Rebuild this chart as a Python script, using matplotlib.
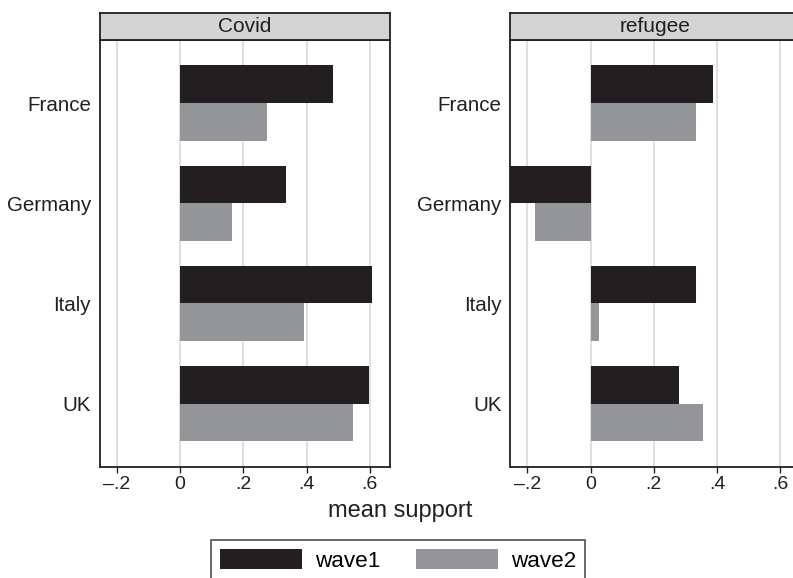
import numpy as np
import matplotlib
matplotlib.use("Agg")
import matplotlib.pyplot as plt
from matplotlib.patches import Patch
from matplotlib.ticker import FuncFormatter

plt.rcParams['font.family'] = ['Liberation Sans', 'DejaVu Sans']

countries = ['France', 'Germany', 'Italy', 'UK']
panels = ['Covid', 'refugee']
covid_wave1 = [0.485, 0.335, 0.607, 0.598]
covid_wave2 = [0.274, 0.165, 0.392, 0.547]
refugee_wave1 = [0.388, -0.30, 0.332, 0.279]
refugee_wave2 = [0.332, -0.174, 0.026, 0.355]
xticks = [-0.2, 0, 0.2, 0.4, 0.6]

data = {'Covid': (covid_wave1, covid_wave2),
        'refugee': (refugee_wave1, refugee_wave2)}

c1 = '#231f20'
c2 = '#939598'
fs = 14.8

W, H = 793, 578
fig = plt.figure(figsize=(W / 100, H / 100), dpi=100)


def fmt(v, pos):
    if abs(v) < 1e-9:
        return '0'
    s = ('%.1f' % v).replace('0.', '.')
    return s.replace('-', '\u2013')


lefts = [100, 510.5]
for name, left in zip(panels, lefts):
    ax = fig.add_axes([left / W, (H - 466.7) / H, 290 / W, 426.7 / H])
    w1, w2 = data[name]
    y = np.arange(len(countries))
    h = 0.377
    ax.barh(y - h / 2, w1, height=h, color=c1, zorder=3)
    ax.barh(y + h / 2, w2, height=h, color=c2, zorder=3)
    ax.set_xlim(-0.253, 0.664)
    ax.set_ylim(3.63, -0.63)
    ax.set_xticks(xticks)
    ax.xaxis.set_major_formatter(FuncFormatter(fmt))
    ax.set_yticks(y)
    ax.set_yticklabels(countries)
    ax.tick_params(axis='y', length=0, pad=6.5, labelsize=fs, colors='#231f20')
    ax.tick_params(axis='x', length=4.5, width=1, pad=2.5, labelsize=14,
                   colors='#231f20', direction='out')
    ax.grid(axis='x', color='#d9d9d9', lw=1.2, zorder=0)
    for sp in ax.spines.values():
        sp.set_color('#231f20')
        sp.set_linewidth(1.3)

    # panel header
    hx = fig.add_axes([left / W, (H - 39.5) / H, 290 / W, 27 / H])
    hx.set_facecolor('#d4d4d4')
    hx.set_xticks([])
    hx.set_yticks([])
    for sp in hx.spines.values():
        sp.set_color('#231f20')
        sp.set_linewidth(1.3)
    hx.text(0.5, 0.47, name, ha='center', va='center', fontsize=15,
            color='#231f20', transform=hx.transAxes)

fig.text(400 / W, (H - 511) / H, 'mean support', ha='center', va='center',
         fontsize=17, color='#231f20')

handles = [Patch(facecolor=c1, label='wave1'), Patch(facecolor=c2, label='wave2')]
leg = fig.legend(handles=handles, loc='upper center', ncol=2,
                 bbox_to_anchor=(398 / W, (H - 540) / H), fontsize=16.2,
                 frameon=True, fancybox=False, handlelength=3.64,
                 handleheight=1.0, handletextpad=0.58, columnspacing=1.6,
                 borderpad=0.4, borderaxespad=0)
leg.get_frame().set_edgecolor('#231f20')
leg.get_frame().set_linewidth(1.2)

fig.savefig('out.png', dpi=100)
